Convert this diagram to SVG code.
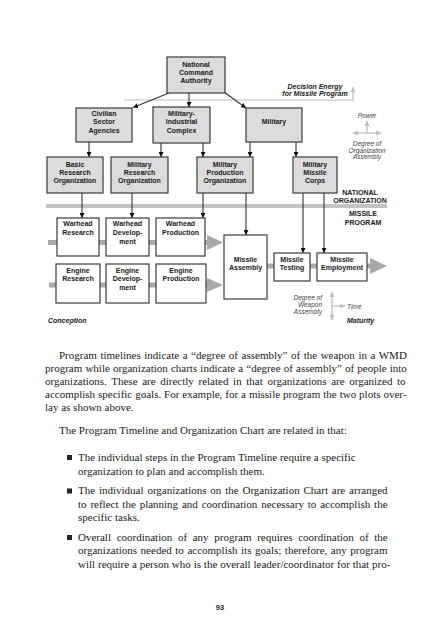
<svg xmlns="http://www.w3.org/2000/svg" width="427" height="640" viewBox="0 0 427 640">
<style>
.n{fill:#dcdcdc;stroke:#3a3a3a;stroke-width:1.2}
.w{fill:#fff;stroke:#3a3a3a;stroke-width:1.2}
.t{font-family:"Liberation Sans",Arial,sans-serif;font-weight:bold;font-size:7px;text-anchor:middle;fill:#1a1a1a}
.c{stroke:#333;stroke-width:1.1;fill:none;marker-end:url(#ah)}
.ga{stroke:#bdbdbd;stroke-width:1.2;fill:none;marker-end:url(#gh)}
.pipe{fill:#a9a9a9}
.lg{font-family:"Liberation Sans",Arial,sans-serif;font-style:italic;font-size:6.5px;fill:#444}
.bi{font-family:"Liberation Sans",Arial,sans-serif;font-style:italic;font-weight:bold;font-size:7px;fill:#1a1a1a}
.lb{font-family:"Liberation Sans",Arial,sans-serif;font-weight:bold;font-size:7px;fill:#1a1a1a;text-anchor:middle}
.p{font-family:"Liberation Serif","Times New Roman",serif;font-size:11px;fill:#1a1a1a}
.bul{fill:#222}
</style>
<defs>
<marker id="ah" viewBox="0 0 10 10" refX="10" refY="5" markerWidth="5" markerHeight="5" orient="auto" markerUnits="userSpaceOnUse"><path d="M0,0 L10,5 L0,10 z" fill="#111"/></marker>
<marker id="gh" viewBox="0 0 10 10" refX="10" refY="5" markerWidth="5" markerHeight="5" orient="auto" markerUnits="userSpaceOnUse"><path d="M0,0 L10,5 L0,10 z" fill="#bdbdbd"/></marker>
<marker id="gs" viewBox="0 0 10 10" refX="0" refY="5" markerWidth="5" markerHeight="5" orient="auto" markerUnits="userSpaceOnUse"><path d="M10,0 L0,5 L10,10 z" fill="#bdbdbd"/></marker>
</defs>

<rect x="46" y="204" width="341" height="4" fill="#c4c4c4"/>
<g id="decision-energy">
<path class="ga" d="M124,100 H353 V87"/>
<text class="bi" x="315" y="88.5" text-anchor="middle">Decision Energy</text>
<text class="bi" x="315" y="96" text-anchor="middle">for Missile Program</text>
</g>

<g id="pipes" class="pipe">
<rect x="48" y="240" width="9" height="5"/>
<rect x="99" y="240" width="7" height="5"/>
<rect x="149" y="240" width="7" height="5"/>
<rect x="205" y="240" width="4" height="5"/>
<path d="M207,235 L223,242.5 L207,250 z"/>
<rect x="49" y="282.5" width="7" height="5"/>
<rect x="100" y="282.5" width="6" height="5"/>
<rect x="149" y="282.5" width="7" height="5"/>
<rect x="206" y="282.5" width="3" height="5"/>
<path d="M207,278 L223,285 L207,292 z"/>
<rect x="267" y="263.5" width="7" height="5"/>
<rect x="310" y="263.5" width="7" height="5"/>
<rect x="367" y="263.5" width="5" height="5"/>
<path d="M370,258 L387,266 L370,274 z"/>
</g>

<g id="connectors">
<line class="c" x1="169" y1="93" x2="133" y2="107.5"/>
<line class="c" x1="189" y1="93" x2="189" y2="107"/>
<line class="c" x1="224" y1="92" x2="246" y2="108"/>
<line class="c" x1="89" y1="142" x2="89" y2="157"/>
<line class="c" x1="161" y1="143" x2="161" y2="157"/>
<line class="c" x1="203" y1="143" x2="203" y2="157"/>
<line class="c" x1="250" y1="142" x2="250" y2="157"/>
<line class="c" x1="296" y1="142" x2="296" y2="157"/>
<line class="c" x1="82" y1="193" x2="82" y2="218"/>
<line class="c" x1="132" y1="193" x2="132" y2="218"/>
<line class="c" x1="203" y1="193" x2="203" y2="218"/>
<line class="c" x1="246" y1="193" x2="246" y2="235"/>
<line class="c" x1="303" y1="193" x2="303" y2="253"/>
<line class="c" x1="324" y1="193" x2="324" y2="253"/>
</g>

<g id="nca"><rect class="n" x="167" y="57" width="58" height="36"/>
<text class="t" x="196" y="66.5">National</text><text class="t" x="196" y="74.5">Command</text><text class="t" x="196" y="82.5">Authority</text></g>
<g id="civilian"><rect class="n" x="76" y="108" width="56" height="34"/>
<text class="t" x="104" y="116">Civilian</text><text class="t" x="104" y="124.3">Sector</text><text class="t" x="104" y="133">Agencies</text></g>
<g id="mic"><rect class="n" x="153" y="107" width="57" height="36"/>
<text class="t" x="181.5" y="116">Military-</text><text class="t" x="181.5" y="124.3">Industrial</text><text class="t" x="181.5" y="133">Complex</text></g>
<g id="military"><rect class="n" x="246" y="108" width="56" height="34"/>
<text class="t" x="274" y="124.3">Military</text></g>
<g id="basic"><rect class="n" x="47" y="157" width="56" height="36"/>
<text class="t" x="75" y="166.5">Basic</text><text class="t" x="75" y="174.8">Research</text><text class="t" x="75" y="182.5">Organization</text></g>
<g id="milres"><rect class="n" x="111" y="157" width="57" height="36"/>
<text class="t" x="139.5" y="166.5">Military</text><text class="t" x="139.5" y="174.8">Research</text><text class="t" x="139.5" y="182.5">Organization</text></g>
<g id="milprod"><rect class="n" x="197" y="157" width="56" height="36"/>
<text class="t" x="225" y="166.5">Military</text><text class="t" x="225" y="174.8">Production</text><text class="t" x="225" y="182.5">Organization</text></g>
<g id="mmc"><rect class="n" x="293" y="157" width="44" height="36"/>
<text class="t" x="315" y="166.5">Military</text><text class="t" x="315" y="174.8">Missile</text><text class="t" x="315" y="182.5">Corps</text></g>

<g id="labels-org">
<text class="lb" x="360" y="194.5">NATIONAL</text>
<text class="lb" x="360" y="202.5">ORGANIZATION</text>
<text class="lb" x="363" y="216">MISSILE</text>
<text class="lb" x="363" y="224.5">PROGRAM</text>
</g>

<g id="wh-res"><rect class="w" x="57" y="218" width="42" height="38"/>
<text class="t" x="78" y="225.5">Warhead</text><text class="t" x="78" y="234.5">Research</text></g>
<g id="wh-dev"><rect class="w" x="106" y="218" width="43" height="38"/>
<text class="t" x="127.5" y="225.5">Warhead</text><text class="t" x="127.5" y="235">Develop-</text><text class="t" x="127.5" y="244">ment</text></g>
<g id="wh-prod"><rect class="w" x="156" y="218" width="49" height="38"/>
<text class="t" x="180.5" y="225.5">Warhead</text><text class="t" x="180.5" y="234.5">Production</text></g>
<g id="en-res"><rect class="w" x="56" y="264" width="44" height="39"/>
<text class="t" x="78" y="272.5">Engine</text><text class="t" x="78" y="281">Research</text></g>
<g id="en-dev"><rect class="w" x="106" y="264" width="43" height="39"/>
<text class="t" x="127.5" y="272.5">Engine</text><text class="t" x="127.5" y="281">Develop-</text><text class="t" x="127.5" y="290">ment</text></g>
<g id="en-prod"><rect class="w" x="156" y="264" width="50" height="39"/>
<text class="t" x="181" y="272.5">Engine</text><text class="t" x="181" y="281">Production</text></g>
<g id="mis-asm"><rect class="w" x="224" y="235" width="43" height="64"/>
<text class="t" x="245.5" y="261.5">Missile</text><text class="t" x="245.5" y="270">Assembly</text></g>
<g id="mis-test"><rect class="w" x="274" y="253" width="36" height="28"/>
<text class="t" x="292" y="261.5">Missile</text><text class="t" x="292" y="270">Testing</text></g>
<g id="mis-emp"><rect class="w" x="317" y="253" width="50" height="28"/>
<text class="t" x="342" y="261.5">Missile</text><text class="t" x="342" y="270">Employment</text></g>

<g id="legend-org">
<text class="lg" x="367" y="118" text-anchor="middle">Power</text>
<line class="ga" x1="367" y1="133" x2="367" y2="121"/>
<line class="ga" x1="353" y1="133" x2="381" y2="133" style="marker-start:url(#gs)"/>
<text class="lg" x="367" y="146" text-anchor="middle">Degree of</text>
<text class="lg" x="367" y="152.5" text-anchor="middle">Organization</text>
<text class="lg" x="367" y="159" text-anchor="middle">Assembly</text>
</g>
<g id="legend-weapon">
<line class="ga" x1="332" y1="306" x2="332" y2="292"/>
<line class="ga" x1="332" y1="306" x2="332" y2="320"/>
<line class="ga" x1="332" y1="306" x2="345" y2="306"/>
<text class="lg" x="322" y="300" text-anchor="end">Degree of</text>
<text class="lg" x="322" y="307" text-anchor="end">Weapon</text>
<text class="lg" x="322" y="314" text-anchor="end">Assembly</text>
<text class="lg" x="347" y="308.5">Time</text>
<text class="bi" x="347" y="322.5">Maturity</text>
<text class="bi" x="48" y="322.5">Conception</text>
</g>

<g id="page-text" class="p">
<text x="59" y="358.5" word-spacing="0.8">Program timelines indicate a “degree of assembly” of the weapon in a WMD</text>
<text x="45" y="371.5" word-spacing="0.4">program while organization charts indicate a “degree of assembly” of people into</text>
<text x="45" y="384.5" word-spacing="1.9">organizations. These are directly related in that organizations are organized to</text>
<text x="45" y="397.5" word-spacing="0.2">accomplish specific goals. For example, for a missile program the two plots over-</text>
<text x="45" y="410.5">lay as shown above.</text>
<text x="59" y="433.5">The Program Timeline and Organization Chart are related in that:</text>
<rect class="bul" x="67" y="455" width="5" height="5"/>
<text x="78" y="461">The individual steps in the Program Timeline require a specific</text>
<text x="78" y="474.5">organization to plan and accomplish them.</text>
<rect class="bul" x="67" y="488.5" width="5" height="5"/>
<text x="78" y="494" word-spacing="1.1">The individual organizations on the Organization Chart are arranged</text>
<text x="78" y="507.5" word-spacing="1.1">to reflect the planning and coordination necessary to accomplish the</text>
<text x="78" y="521">specific tasks.</text>
<rect class="bul" x="67" y="535" width="5" height="5"/>
<text x="78" y="540.5" word-spacing="2.9">Overall coordination of any program requires coordination of the</text>
<text x="78" y="554" word-spacing="0.8">organizations needed to accomplish its goals; therefore, any program</text>
<text x="78" y="567.5" word-spacing="0.1">will require a person who is the overall leader/coordinator for that pro-</text>
</g>
<text x="220" y="609.5" text-anchor="middle" style="font-family:'Liberation Sans',Arial,sans-serif;font-size:7.5px;font-weight:bold;fill:#1a1a1a">93</text>
</svg>
